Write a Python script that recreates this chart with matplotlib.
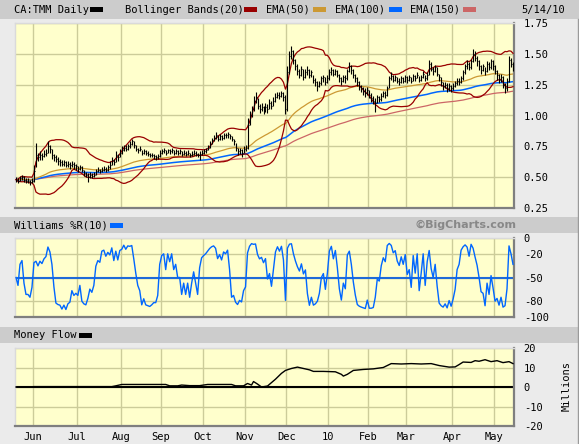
import numpy as np
import pandas as pd
import matplotlib
matplotlib.use("Agg")
import matplotlib.pyplot as plt
from matplotlib.patches import Rectangle
from matplotlib.lines import Line2D

# trading days on the TSX, May 19 2009 - May 14 2010
holidays = ["2009-07-01", "2009-08-03", "2009-09-07", "2009-10-12", "2009-12-25",
            "2009-12-28", "2010-01-01", "2010-02-15", "2010-04-02"]
dates = pd.bdate_range("2009-05-19", "2010-05-14").drop(pd.to_datetime(holidays))

# daily closes, highs, lows
close_may = [0.48, 0.47, 0.49, 0.50, 0.48, 0.47, 0.47, 0.46, 0.47]
high_may = [0.50, 0.49, 0.51, 0.52, 0.51, 0.49, 0.49, 0.48, 0.49]
low_may = [0.46, 0.45, 0.47, 0.48, 0.46, 0.45, 0.45, 0.44, 0.45]

close_jun = [0.55, 0.68, 0.66, 0.68, 0.67, 0.69, 0.70, 0.75, 0.73, 0.68, 0.66,
             0.65, 0.63, 0.62, 0.61, 0.62, 0.60, 0.61, 0.60, 0.61, 0.60, 0.59]
high_jun = [0.60, 0.78, 0.70, 0.71, 0.70, 0.72, 0.73, 0.79, 0.76, 0.73, 0.69,
            0.68, 0.66, 0.65, 0.64, 0.64, 0.63, 0.63, 0.62, 0.63, 0.62, 0.61]
low_jun = [0.46, 0.58, 0.63, 0.64, 0.64, 0.66, 0.67, 0.70, 0.70, 0.65, 0.63,
           0.62, 0.60, 0.59, 0.59, 0.59, 0.58, 0.58, 0.57, 0.58, 0.57, 0.56]

close_jul = [0.57, 0.58, 0.56, 0.53, 0.52, 0.50, 0.52, 0.51, 0.52, 0.55, 0.56,
             0.55, 0.56, 0.57, 0.56, 0.58, 0.60, 0.64, 0.62, 0.68, 0.66, 0.70]
high_jul = [0.59, 0.60, 0.59, 0.56, 0.54, 0.53, 0.54, 0.53, 0.54, 0.57, 0.58,
            0.57, 0.58, 0.59, 0.58, 0.60, 0.63, 0.66, 0.65, 0.71, 0.69, 0.73]
low_jul = [0.54, 0.56, 0.54, 0.51, 0.50, 0.46, 0.49, 0.49, 0.50, 0.52, 0.54,
           0.53, 0.54, 0.55, 0.54, 0.55, 0.57, 0.60, 0.60, 0.62, 0.63, 0.66]

close_aug = [0.72, 0.74, 0.73, 0.75, 0.77, 0.79, 0.76, 0.73, 0.72, 0.73,
             0.70, 0.71, 0.70, 0.69, 0.68, 0.68, 0.67, 0.66, 0.67, 0.70]
high_aug = [0.75, 0.76, 0.76, 0.77, 0.79, 0.81, 0.79, 0.76, 0.74, 0.75,
            0.72, 0.73, 0.72, 0.71, 0.70, 0.70, 0.69, 0.68, 0.69, 0.72]
low_aug = [0.69, 0.71, 0.71, 0.72, 0.74, 0.76, 0.74, 0.71, 0.70, 0.71,
           0.68, 0.69, 0.68, 0.67, 0.66, 0.66, 0.65, 0.64, 0.65, 0.66]

close_sep = [0.71, 0.72, 0.70, 0.72, 0.71, 0.72, 0.70, 0.71, 0.70, 0.71, 0.69,
             0.70, 0.69, 0.70, 0.68, 0.69, 0.70, 0.69, 0.68, 0.69, 0.70]
high_sep = [0.73, 0.74, 0.72, 0.73, 0.73, 0.74, 0.72, 0.73, 0.72, 0.73, 0.71,
            0.72, 0.71, 0.72, 0.70, 0.71, 0.72, 0.71, 0.70, 0.71, 0.72]
low_sep = [0.69, 0.70, 0.68, 0.70, 0.69, 0.70, 0.68, 0.69, 0.68, 0.69, 0.67,
           0.68, 0.67, 0.68, 0.66, 0.67, 0.68, 0.67, 0.66, 0.64, 0.68]

close_oct = [0.71, 0.72, 0.74, 0.77, 0.80, 0.82, 0.84, 0.81, 0.83, 0.82, 0.84,
             0.84, 0.85, 0.83, 0.81, 0.79, 0.74, 0.71, 0.72, 0.70, 0.73]
high_oct = [0.73, 0.74, 0.76, 0.79, 0.82, 0.84, 0.87, 0.84, 0.85, 0.84, 0.86,
            0.86, 0.87, 0.85, 0.83, 0.81, 0.78, 0.74, 0.74, 0.73, 0.75]
low_oct = [0.69, 0.70, 0.72, 0.74, 0.77, 0.79, 0.81, 0.79, 0.80, 0.80, 0.81,
           0.82, 0.82, 0.81, 0.79, 0.76, 0.71, 0.68, 0.69, 0.66, 0.70]

close_nov = [0.74, 0.92, 1.00, 1.05, 1.12, 1.15, 1.08, 1.05, 1.07, 1.04, 1.07,
             1.05, 1.10, 1.08, 1.12, 1.15, 1.17, 1.16, 1.18, 1.15, 1.05]
high_nov = [0.76, 0.98, 1.04, 1.08, 1.16, 1.19, 1.14, 1.09, 1.10, 1.08, 1.10,
            1.09, 1.13, 1.12, 1.15, 1.18, 1.19, 1.19, 1.20, 1.19, 1.17]
low_nov = [0.71, 0.73, 0.92, 0.99, 1.04, 1.10, 1.05, 1.02, 1.04, 1.01, 1.03,
           1.02, 1.05, 1.05, 1.08, 1.11, 1.14, 1.13, 1.15, 1.12, 1.01]

close_dec = [1.35, 1.48, 1.52, 1.45, 1.40, 1.36, 1.33, 1.38, 1.31, 1.35, 1.37,
             1.33, 1.35, 1.29, 1.27, 1.24, 1.26, 1.30, 1.31, 1.27, 1.30]
high_dec = [1.40, 1.52, 1.56, 1.53, 1.46, 1.42, 1.38, 1.40, 1.38, 1.38, 1.40,
            1.38, 1.37, 1.33, 1.30, 1.28, 1.28, 1.32, 1.33, 1.31, 1.33]
low_dec = [1.04, 1.34, 1.46, 1.42, 1.37, 1.33, 1.30, 1.32, 1.29, 1.30, 1.33,
           1.30, 1.31, 1.26, 1.24, 1.20, 1.23, 1.25, 1.27, 1.25, 1.26]

close_jan = [1.35, 1.37, 1.34, 1.36, 1.33, 1.30, 1.28, 1.31, 1.30, 1.36,
             1.40, 1.37, 1.33, 1.30, 1.27, 1.24, 1.22, 1.20, 1.18, 1.21]
high_jan = [1.38, 1.39, 1.38, 1.38, 1.37, 1.34, 1.31, 1.33, 1.33, 1.38,
            1.43, 1.41, 1.38, 1.34, 1.31, 1.28, 1.25, 1.23, 1.22, 1.23]
low_jan = [1.29, 1.33, 1.32, 1.33, 1.31, 1.27, 1.25, 1.27, 1.26, 1.29,
           1.35, 1.34, 1.30, 1.27, 1.24, 1.21, 1.19, 1.17, 1.15, 1.17]

close_feb = [1.17, 1.14, 1.12, 1.10, 1.15, 1.13, 1.16, 1.18, 1.17, 1.22,
             1.30, 1.32, 1.29, 1.31, 1.28, 1.27, 1.30, 1.28, 1.31]
high_feb = [1.21, 1.18, 1.16, 1.14, 1.17, 1.16, 1.18, 1.20, 1.20, 1.24,
            1.32, 1.35, 1.33, 1.33, 1.31, 1.30, 1.32, 1.31, 1.33]
low_feb = [1.14, 1.11, 1.09, 1.03, 1.10, 1.11, 1.12, 1.15, 1.14, 1.16,
           1.22, 1.29, 1.27, 1.28, 1.26, 1.25, 1.26, 1.26, 1.27]

close_mar = [1.29, 1.31, 1.28, 1.32, 1.30, 1.33, 1.29, 1.31, 1.34, 1.30, 1.33, 1.42,
             1.38, 1.36, 1.39, 1.34, 1.31, 1.27, 1.24, 1.25, 1.22, 1.24, 1.22]
high_mar = [1.32, 1.33, 1.31, 1.34, 1.33, 1.35, 1.32, 1.33, 1.36, 1.33, 1.35, 1.45,
            1.43, 1.39, 1.41, 1.39, 1.34, 1.31, 1.27, 1.27, 1.26, 1.26, 1.25]
low_mar = [1.26, 1.28, 1.26, 1.28, 1.28, 1.30, 1.27, 1.28, 1.30, 1.28, 1.29, 1.33,
           1.36, 1.33, 1.35, 1.32, 1.28, 1.24, 1.21, 1.22, 1.19, 1.20, 1.19]

close_apr = [1.24, 1.26, 1.28, 1.27, 1.30, 1.35, 1.40, 1.42, 1.39, 1.44, 1.50,
             1.47, 1.44, 1.40, 1.37, 1.40, 1.36, 1.42, 1.39, 1.44, 1.40]
high_apr = [1.26, 1.28, 1.30, 1.30, 1.32, 1.37, 1.42, 1.45, 1.43, 1.46, 1.54,
            1.52, 1.48, 1.45, 1.41, 1.42, 1.39, 1.44, 1.43, 1.46, 1.45]
low_apr = [1.21, 1.23, 1.25, 1.25, 1.26, 1.29, 1.34, 1.38, 1.37, 1.38, 1.43,
           1.44, 1.40, 1.37, 1.34, 1.36, 1.33, 1.35, 1.37, 1.38, 1.37]

close_may10 = [1.36, 1.33, 1.29, 1.31, 1.25, 1.22, 1.28, 1.45, 1.42, 1.38]
high_may10 = [1.41, 1.37, 1.34, 1.34, 1.32, 1.26, 1.30, 1.48, 1.47, 1.43]
low_may10 = [1.34, 1.29, 1.26, 1.27, 1.22, 1.18, 1.20, 1.27, 1.39, 1.36]

closes = np.array(close_may + close_jun + close_jul + close_aug + close_sep + close_oct
                  + close_nov + close_dec + close_jan + close_feb + close_mar
                  + close_apr + close_may10)
highs = np.array(high_may + high_jun + high_jul + high_aug + high_sep + high_oct
                 + high_nov + high_dec + high_jan + high_feb + high_mar
                 + high_apr + high_may10)
lows = np.array(low_may + low_jun + low_jul + low_aug + low_sep + low_oct
                + low_nov + low_dec + low_jan + low_feb + low_mar
                + low_apr + low_may10)

# money flow (millions), read at trading-day positions
mf_days = [0, 8, 9, 48, 50, 53, 75, 77, 81, 83, 87, 92, 96, 108, 110, 114, 116,
           118, 119, 121, 123, 126, 130, 133, 135, 138, 141, 144, 147, 149, 154,
           160, 163, 164, 166, 169, 174, 179, 184, 188, 193, 198, 203, 208, 212,
           217, 220, 222, 224, 228, 230, 232, 235, 238, 241, 244, 247, 249]
mf_values = [0.0, 0.0, 0.2, 0.2, 0.6, 1.3, 1.3, 0.6, 0.6, 1.0, 0.7, 0.7, 1.3,
             1.3, 0.6, 0.6, 1.8, 1.0, 2.8, 1.5, 0.0, 0.5, 4.0, 7.0, 8.5, 9.5,
             10.2, 9.5, 8.8, 8.0, 8.0, 7.8, 6.5, 5.6, 6.5, 8.5, 9.0, 9.3, 10.0,
             12.0, 11.8, 12.0, 11.8, 12.0, 11.0, 10.2, 10.3, 11.5, 12.8, 12.6,
             13.5, 13.2, 14.0, 13.0, 13.5, 12.5, 13.0, 12.0]

month_labels = ["Jun", "Jul", "Aug", "Sep", "Oct", "Nov", "Dec", "10",
                "Feb", "Mar", "Apr", "May"]
price_ticks = [0.25, 0.50, 0.75, 1.00, 1.25, 1.50, 1.75]
wr_ticks = [-100, -80, -50, -20, 0]
mf_ticks = [-20, -10, 0, 10, 20]

# indicators
c = pd.Series(closes)
mid = c.rolling(20, min_periods=1).mean()
sd = c.rolling(20, min_periods=1).std(ddof=0).fillna(0)
bb_upper = mid + 2 * sd
bb_lower = mid - 2 * sd
ema50 = c.ewm(span=50, adjust=False).mean()
ema100 = c.ewm(span=100, adjust=False).mean()
ema150 = c.ewm(span=150, adjust=False).mean()
hh = pd.Series(highs).rolling(10, min_periods=1).max()
ll = pd.Series(lows).rolling(10, min_periods=1).min()
williams = (hh - c) / (hh - ll) * -100

x = np.arange(len(closes))
month_starts = [i for i in range(1, len(dates)) if dates[i].month != dates[i - 1].month]
month_x = [i - 0.5 for i in month_starts]

W, H = 579, 444
BG = "#EBEBEB"
BAR = "#CCCCCC"
FACE = "#FFFFCC"
GRID = "#CCCC99"
MONO = "DejaVu Sans Mono"
FS = 7.5

fig = plt.figure(figsize=(W / 100, H / 100), dpi=100, facecolor=BG)


def box(left, top, right, bottom):
    return [left / W, 1 - bottom / H, (right - left) / W, (bottom - top) / H]


def fx(px):
    return px / W


def fy(py):
    return 1 - py / H


def swatch(left, ymid, color):
    fig.patches.append(Rectangle((fx(left), fy(ymid + 2.5)), 13 / W, 5 / H,
                                 transform=fig.transFigure, facecolor=color,
                                 edgecolor="none"))


# header bars
for top, bottom in [(0, 19), (217, 233), (327, 343)]:
    fig.patches.append(Rectangle((0, fy(bottom)), 1, (bottom - top) / H,
                                 transform=fig.transFigure, facecolor=BAR,
                                 edgecolor="none", zorder=0))
fig.add_artist(Line2D([fx(577.5)] * 2, [0, fy(19)], color="#9A9A9A", lw=1))

fig.text(fx(14), fy(10), "CA:TMM Daily", family=MONO, size=FS, va="center")
swatch(90, 10, "black")
fig.text(fx(125), fy(10), "Bollinger Bands(20)", family=MONO, size=FS, va="center")
swatch(244, 10, "#990000")
fig.text(fx(266), fy(10), "EMA(50)", family=MONO, size=FS, va="center")
swatch(313, 10, "#CC9933")
fig.text(fx(335), fy(10), "EMA(100)", family=MONO, size=FS, va="center")
swatch(389, 10, "#0066FF")
fig.text(fx(410), fy(10), "EMA(150)", family=MONO, size=FS, va="center")
swatch(463, 10, "#CC6666")
fig.text(fx(565), fy(10), "5/14/10", family=MONO, size=FS, va="center", ha="right")

fig.text(fx(14), fy(225), "Williams %R(10)", family=MONO, size=FS, va="center")
swatch(110, 225, "#0066FF")
fig.text(fx(516), fy(225), "\u00a9BigCharts.com", family="DejaVu Sans", size=8,
         weight="bold", color="#888888", va="center", ha="right")

fig.text(fx(14), fy(335), "Money Flow", family=MONO, size=FS, va="center")
swatch(79, 335, "black")
fig.text(fx(567), fy(386), "Millions", family=MONO, size=FS, va="center",
         ha="center", rotation=90)


def style(ax, yticks, ylabels, ylim):
    ax.set_facecolor(FACE)
    ax.set_xlim(-0.5, len(closes) - 0.5)
    ax.set_ylim(*ylim)
    ax.set_xticks(month_x)
    ax.set_xticklabels([])
    ax.set_yticks(yticks)
    ax.set_yticklabels(ylabels, family=MONO, size=FS)
    ax.yaxis.tick_right()
    ax.tick_params(length=0)
    ax.tick_params(axis="y", pad=7)
    ax.grid(True, color=GRID, lw=1, zorder=0)
    ax.set_axisbelow(True)
    for side in ["top", "left"]:
        ax.spines[side].set_color("#DADADA")
        ax.spines[side].set_linewidth(1)
    for side in ["bottom", "right"]:
        ax.spines[side].set_color("#7F7F7F")
        ax.spines[side].set_linewidth(1.6)


# price panel
ax1 = fig.add_axes(box(15, 23, 514, 208))
style(ax1, price_ticks, [f"{v:.2f}" for v in price_ticks], (0.25, 1.75))
ax1.plot(x, ema150, color="#CC6666", lw=0.9, zorder=2)
ax1.plot(x, ema100, color="#0066FF", lw=1.1, zorder=2)
ax1.plot(x, ema50, color="#CC9933", lw=0.9, zorder=2)
ax1.plot(x, bb_upper, color="#990000", lw=0.9, zorder=3)
ax1.plot(x, bb_lower, color="#990000", lw=0.9, zorder=3)
ax1.vlines(x, lows, highs, color="black", lw=0.8, zorder=4)
ax1.hlines(closes, x, x + 0.5, color="black", lw=0.8, zorder=4)

# Williams %R panel
ax2 = fig.add_axes(box(15, 238, 514, 317))
style(ax2, wr_ticks, [str(v) for v in wr_ticks], (-100, 0))
ax2.axhline(-50, color="#1F6AD8", lw=1.5, zorder=2)
ax2.plot(x, williams, color="#0066FF", lw=1.0, zorder=3)

# money flow panel
ax3 = fig.add_axes(box(15, 348, 514, 426))
style(ax3, mf_ticks, [str(v) for v in mf_ticks], (-20, 20))
ax3.set_xticklabels(month_labels, family=MONO, size=FS)
ax3.tick_params(axis="x", pad=4)
ax3.axhline(0, color="black", lw=1.5, zorder=2)
ax3.plot(mf_days, mf_values, color="black", lw=1, zorder=3)

fig.savefig("out.png", dpi=100, facecolor=BG)
